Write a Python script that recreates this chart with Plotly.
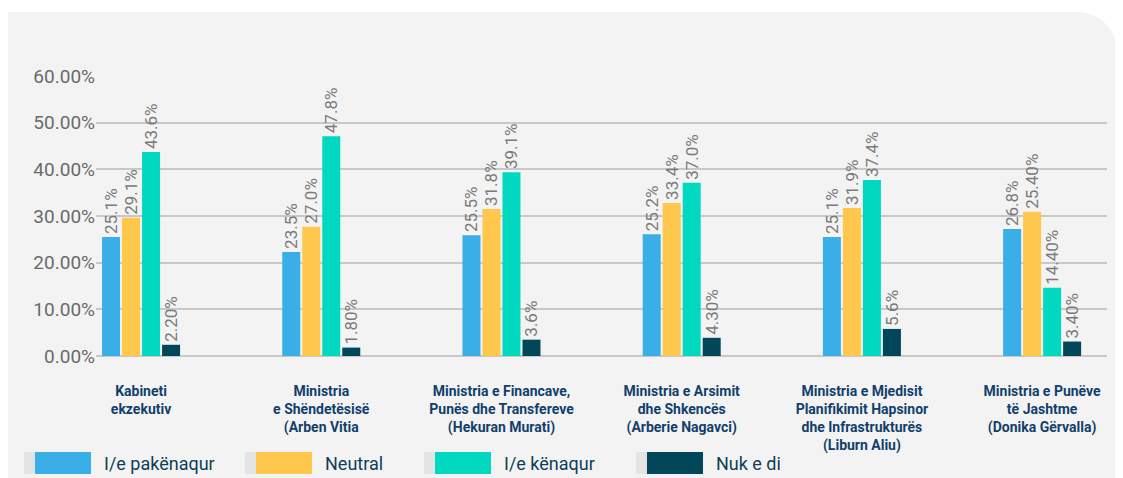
import plotly.graph_objects as go

# ---------------- data ----------------
categories = [
    "Kabineti<br>ekzekutiv",
    "Ministria<br>e Shëndetësisë<br>(Arben Vitia",
    "Ministria e Financave,<br>Punës dhe Transfereve<br>(Hekuran Murati)",
    "Ministria e Arsimit<br>dhe Shkencës<br>(Arberie Nagavci)",
    "Ministria e Mjedisit<br>Planifikimit Hapsinor<br>dhe Infrastrukturës<br>(Liburn Aliu)",
    "Ministria e Punëve<br>të Jashtme<br>(Donika Gërvalla)",
]
series_names = ["I/e pakënaqur", "Neutral", "I/e kënaqur", "Nuk e di"]

pakenaqur = [25.5, 22.3, 25.9, 26.1, 25.5, 27.2]
neutral = [29.6, 27.7, 31.5, 32.8, 31.7, 30.9]
kenaqur = [43.7, 47.1, 39.4, 37.1, 37.7, 14.6]
nuk_e_di = [2.4, 1.8, 3.5, 3.9, 5.8, 3.1]

pakenaqur_labels = ["25.1%", "23.5%", "25.5%", "25.2%", "25.1%", "26.8%"]
neutral_labels = ["29.1%", "27.0%", "31.8%", "33.4%", "31.9%", "25.40%"]
kenaqur_labels = ["43.6%", "47.8%", "39.1%", "37.0%", "37.4%", "14.40%"]
nuk_e_di_labels = ["2.20%", "1.80%", "3.6%", "4.30%", "5.6%", "3.40%"]

y_ticks = [0, 10, 20, 30, 40, 50, 60]
y_tick_text = ["0.00%", "10.00%", "20.00%", "30.00%", "40.00%", "50.00%", "60.00%"]

# ---------------- style ----------------
colors = ["#3AAEE7", "#FFC74B", "#00D8C0", "#02465A"]
values = [pakenaqur, neutral, kenaqur, nuk_e_di]
labels = [pakenaqur_labels, neutral_labels, kenaqur_labels, nuk_e_di_labels]

OFF = 8                      # page body margin
W, H = 1123 - OFF, 478 - OFF
L, R, T, B = 96 - OFF, 16, 76 - OFF, 122
PW, PH = W - L - R, H - T - B


def fx(px):  # screen px -> paper
    return (px - OFF - L) / PW


def fy(py):
    return (H - B - (py - OFF)) / PH


fig = go.Figure()
for name, vals, labs, col in zip(series_names, values, labels, colors):
    fig.add_trace(go.Bar(
        name=name,
        x=categories,
        y=vals,
        text=labs,
        textposition="outside",
        textangle=-90,
        constraintext="none",
        cliponaxis=False,
        textfont=dict(family="Roboto", size=17, color="#7a7a7a"),
        marker=dict(color=col, line=dict(width=0)),
        showlegend=False,
        hoverinfo="skip",
    ))

# background panel with rounded top-right corner
panel = (
    f"M {fx(7)},{fy(490)} L {fx(7)},{fy(12)} L {fx(1077)},{fy(12)} "
    f"C {fx(1106)},{fy(12)} {fx(1123)},{fy(38)} {fx(1123)},{fy(80)} "
    f"L {fx(1123)},{fy(490)} Z"
)
shapes = [dict(type="path", path=panel, xref="paper", yref="paper",
               fillcolor="#F3F3F3", line=dict(width=0), layer="below")]

# custom legend (gray tab + colour swatch + label)
annotations = []
legend_x = [24, 245, 424, 636]
for lx, name, col in zip(legend_x, series_names, colors):
    shapes.append(dict(type="rect", xref="paper", yref="paper",
                       x0=fx(lx), x1=fx(lx + 12), y0=fy(474), y1=fy(452),
                       fillcolor="#E4E4E4", line=dict(width=0)))
    shapes.append(dict(type="rect", xref="paper", yref="paper",
                       x0=fx(lx + 11), x1=fx(lx + 67), y0=fy(474), y1=fy(452),
                       fillcolor=col, line=dict(width=0)))
    annotations.append(dict(text=name, xref="paper", yref="paper",
                            x=fx(lx + 78), y=fy(463), xanchor="left", yanchor="middle",
                            showarrow=False,
                            font=dict(family="Roboto", size=18, color="#0E3F55")))

fig.update_layout(
    width=W, height=H,
    margin=dict(l=L, r=R, t=T, b=B, pad=0, autoexpand=False),
    paper_bgcolor="white",
    plot_bgcolor="rgba(0,0,0,0)",
    barmode="group",
    bargap=0.556,
    bargroupgap=0.1,
    shapes=shapes,
    annotations=annotations,
    xaxis=dict(
        type="category",
        range=[-0.25, 5.36],
        automargin=False,
        showgrid=False,
        showline=False,
        zeroline=False,
        ticks="outside",
        ticklen=22,
        tickcolor="rgba(0,0,0,0)",
        tickfont=dict(family="Roboto", size=14, color="#123F6B", weight="bold"),
        tickangle=0,
    ),
    yaxis=dict(
        range=[0, 60],
        automargin=False,
        tickvals=y_ticks,
        ticktext=y_tick_text,
        showgrid=True,
        gridcolor="#C8C8C8",
        gridwidth=1.5,
        zeroline=True,
        zerolinecolor="#C8C8C8",
        zerolinewidth=1.5,
        showline=False,
        ticks="",
        tickfont=dict(family="Roboto", size=19, color="#6A6A6A"),
    ),
)

fig.write_html("out.html")
